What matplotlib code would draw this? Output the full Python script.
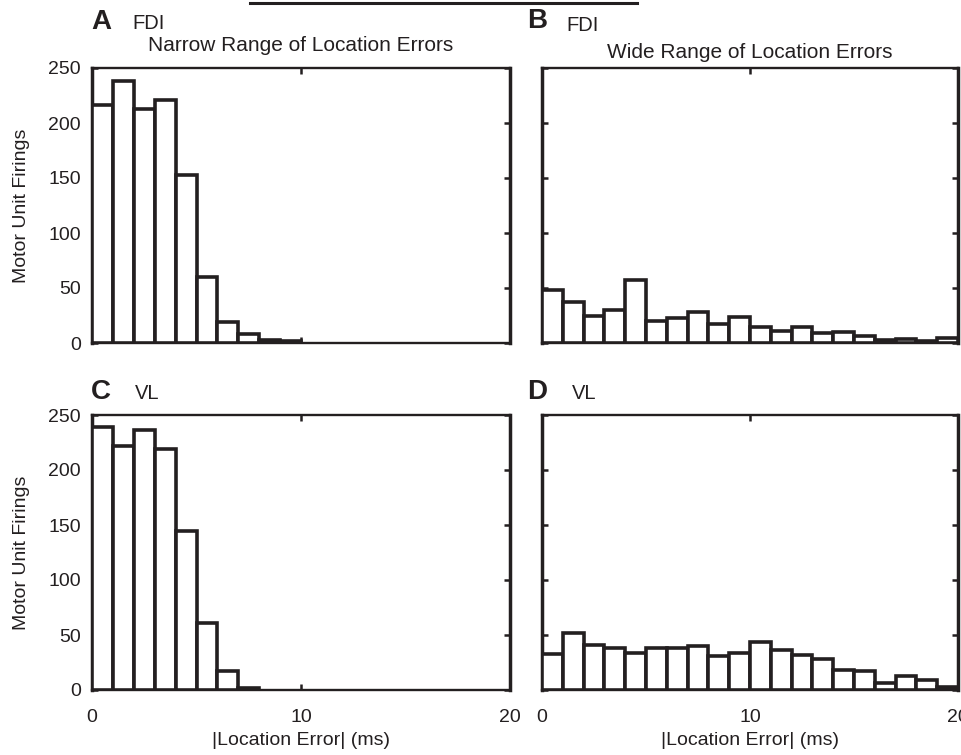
import matplotlib.pyplot as plt
import matplotlib.lines as mlines
import numpy as np

plt.rcParams['font.family'] = ['Liberation Sans', 'DejaVu Sans']

ink = '#231f20'

# counts per 1 ms bin
fdi_narrow = [216, 238, 213, 221, 153, 60, 19, 8, 3, 1.5]
fdi_wide = [48, 37, 25, 30, 57, 20, 23, 28, 17, 24,
            15, 11, 15, 9, 10, 6, 3, 4, 1.5, 5]
vl_narrow = [239, 222, 236, 219, 145, 61, 17, 2]
vl_wide = [33, 52, 41, 38, 34, 38, 38, 40, 31, 34,
           44, 36, 32, 28, 18, 17, 6, 13, 9, 3]

xticks = [0, 10, 20]
yticks = [0, 50, 100, 150, 200, 250]

fig = plt.figure(figsize=(9.62, 7.55), dpi=100)

W, H = 962.0, 755.0
def box(x0, x1, ytop, ybot):
    return [x0 / W, 1 - ybot / H, (x1 - x0) / W, (ybot - ytop) / H]

axA = fig.add_axes(box(92, 510, 68, 343))
axB = fig.add_axes(box(542, 958, 68, 343))
axC = fig.add_axes(box(92, 510, 415, 690))
axD = fig.add_axes(box(542, 958, 415, 690))

panels = [(axA, fdi_narrow), (axB, fdi_wide), (axC, vl_narrow), (axD, vl_wide)]
for ax, counts in panels:
    edges = np.arange(len(counts))
    ax.bar(edges, counts, width=1, align='edge', color='white',
           edgecolor=ink, linewidth=2.6, zorder=3)
    ax.set_xlim(0, 20)
    ax.set_ylim(0, 250)
    ax.set_xticks(xticks)
    ax.set_yticks(yticks)
    ax.tick_params(direction='in', length=4.5, width=1.8, color=ink,
                   labelsize=14, labelcolor=ink, top=True, right=True)
    ax.tick_params(axis='y', pad=8)
    ax.tick_params(axis='x', pad=14)
    for s in ['left', 'right']:
        ax.spines[s].set_linewidth(2.5)
    for s in ['top', 'bottom']:
        ax.spines[s].set_linewidth(1.7)
    for s in ax.spines.values():
        s.set_color(ink)

for ax in [axA, axB]:
    ax.tick_params(labelbottom=False)
for ax in [axB, axD]:
    ax.tick_params(labelleft=False)
for ax in [axA, axC]:
    ax.set_ylabel('Motor Unit Firings', fontsize=14, color=ink, labelpad=13)
for ax in [axC, axD]:
    ax.set_xlabel('|Location Error| (ms)', fontsize=14, color=ink, labelpad=4)

def ft(x, y, s, **kw):
    fig.text(x / W, 1 - y / H, s, color=ink, va='baseline', **kw)

ft(91, 29, 'A', fontsize=20, fontweight='bold')
ft(132, 29, 'FDI', fontsize=14.5)
ft(301, 51, 'Narrow Range of Location Errors', fontsize=15, ha='center')
ft(527, 28, 'B', fontsize=20, fontweight='bold')
ft(566, 31, 'FDI', fontsize=14.5)
ft(750, 58, 'Wide Range of Location Errors', fontsize=15, ha='center')
ft(91, 399, 'C', fontsize=20, fontweight='bold')
ft(135, 399, 'VL', fontsize=14.5)
ft(527, 399, 'D', fontsize=20, fontweight='bold')
ft(572, 399, 'VL', fontsize=14.5)

fig.add_artist(mlines.Line2D([250 / W, 637 / W], [1 - 3 / H, 1 - 3 / H],
                             color=ink, linewidth=2.2))

fig.savefig('out.png', dpi=100)
